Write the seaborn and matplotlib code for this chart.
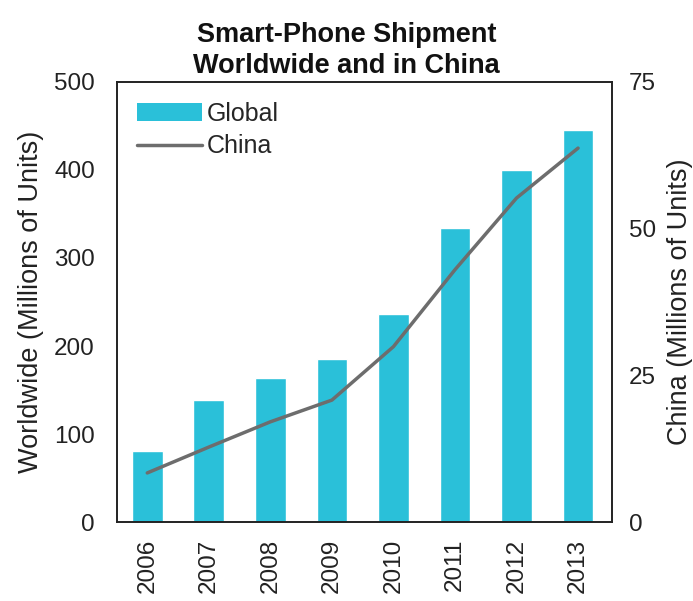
import numpy as np
import pandas as pd
import matplotlib
matplotlib.use('Agg')
import matplotlib.pyplot as plt
import seaborn as sns
from matplotlib.patches import Patch
from matplotlib.lines import Line2D

# data
years = ['2006', '2007', '2008', '2009', '2010', '2011', '2012', '2013']
global_units = [81, 139, 164, 185, 236, 334, 400, 445]
china_units = [8.4, 12.8, 17.1, 20.8, 29.9, 43.0, 55.2, 63.7]

sns.set_theme(style='white')
plt.rcParams['font.family'] = ['Liberation Sans', 'DejaVu Sans']

bar_color = '#2ac0d9'
line_color = '#6d6d6d'
text_color = '#222222'

df = pd.DataFrame({'year': years, 'global': global_units, 'china': china_units})

fig = plt.figure(figsize=(6.93, 6.01), dpi=100)
ax = fig.add_axes([0.169, 0.131, 0.714, 0.733])

sns.barplot(data=df, x='year', y='global', color=bar_color, width=0.5,
            saturation=1, ax=ax)
ax.set_ylim(0, 500)
ax.set_xlim(-0.49, 7.55)
ax.set_yticks([0, 100, 200, 300, 400, 500])
ax.set_xlabel('')
ax.set_ylabel('Worldwide (Millions of Units)', fontsize=19.5, color=text_color, labelpad=7)
ax.tick_params(axis='x', labelrotation=90, labelsize=17.5, length=0, pad=12)
ax.tick_params(axis='y', labelsize=17.5, length=0, pad=16)

# second axis for China
ax2 = ax.twinx()
sns.lineplot(x=np.arange(len(years)), y=df['china'], color=line_color,
             linewidth=2.5, ax=ax2)
ax2.set_ylim(0, 75)
ax2.set_yticks([0, 25, 50, 75])
ax2.set_ylabel('China (Millions of Units)', fontsize=19.5, color=text_color, labelpad=8)
ax2.tick_params(axis='y', labelsize=17.5, length=0, pad=12)

for a in (ax, ax2):
    for s in a.spines.values():
        s.set_color(text_color)
        s.set_linewidth(1.2)
    for lbl in a.get_xticklabels() + a.get_yticklabels():
        lbl.set_color(text_color)

handles = [Patch(facecolor=bar_color, edgecolor='none'),
           Line2D([0], [0], color=line_color, linewidth=2.5)]
ax.legend(handles, ['Global', 'China'], loc='upper left', frameon=False,
          fontsize=18, handlelength=2.6, handleheight=0.72, handletextpad=0.2,
          labelspacing=0.35, borderaxespad=0.4, borderpad=0.4)

fig.text(0.5, 1 - 79 / 601, 'Smart-Phone Shipment\nWorldwide and in China',
         ha='center', va='bottom', fontsize=19.5, fontweight='bold',
         color='#111111', linespacing=1.25)

fig.savefig('out.png', dpi=100)
